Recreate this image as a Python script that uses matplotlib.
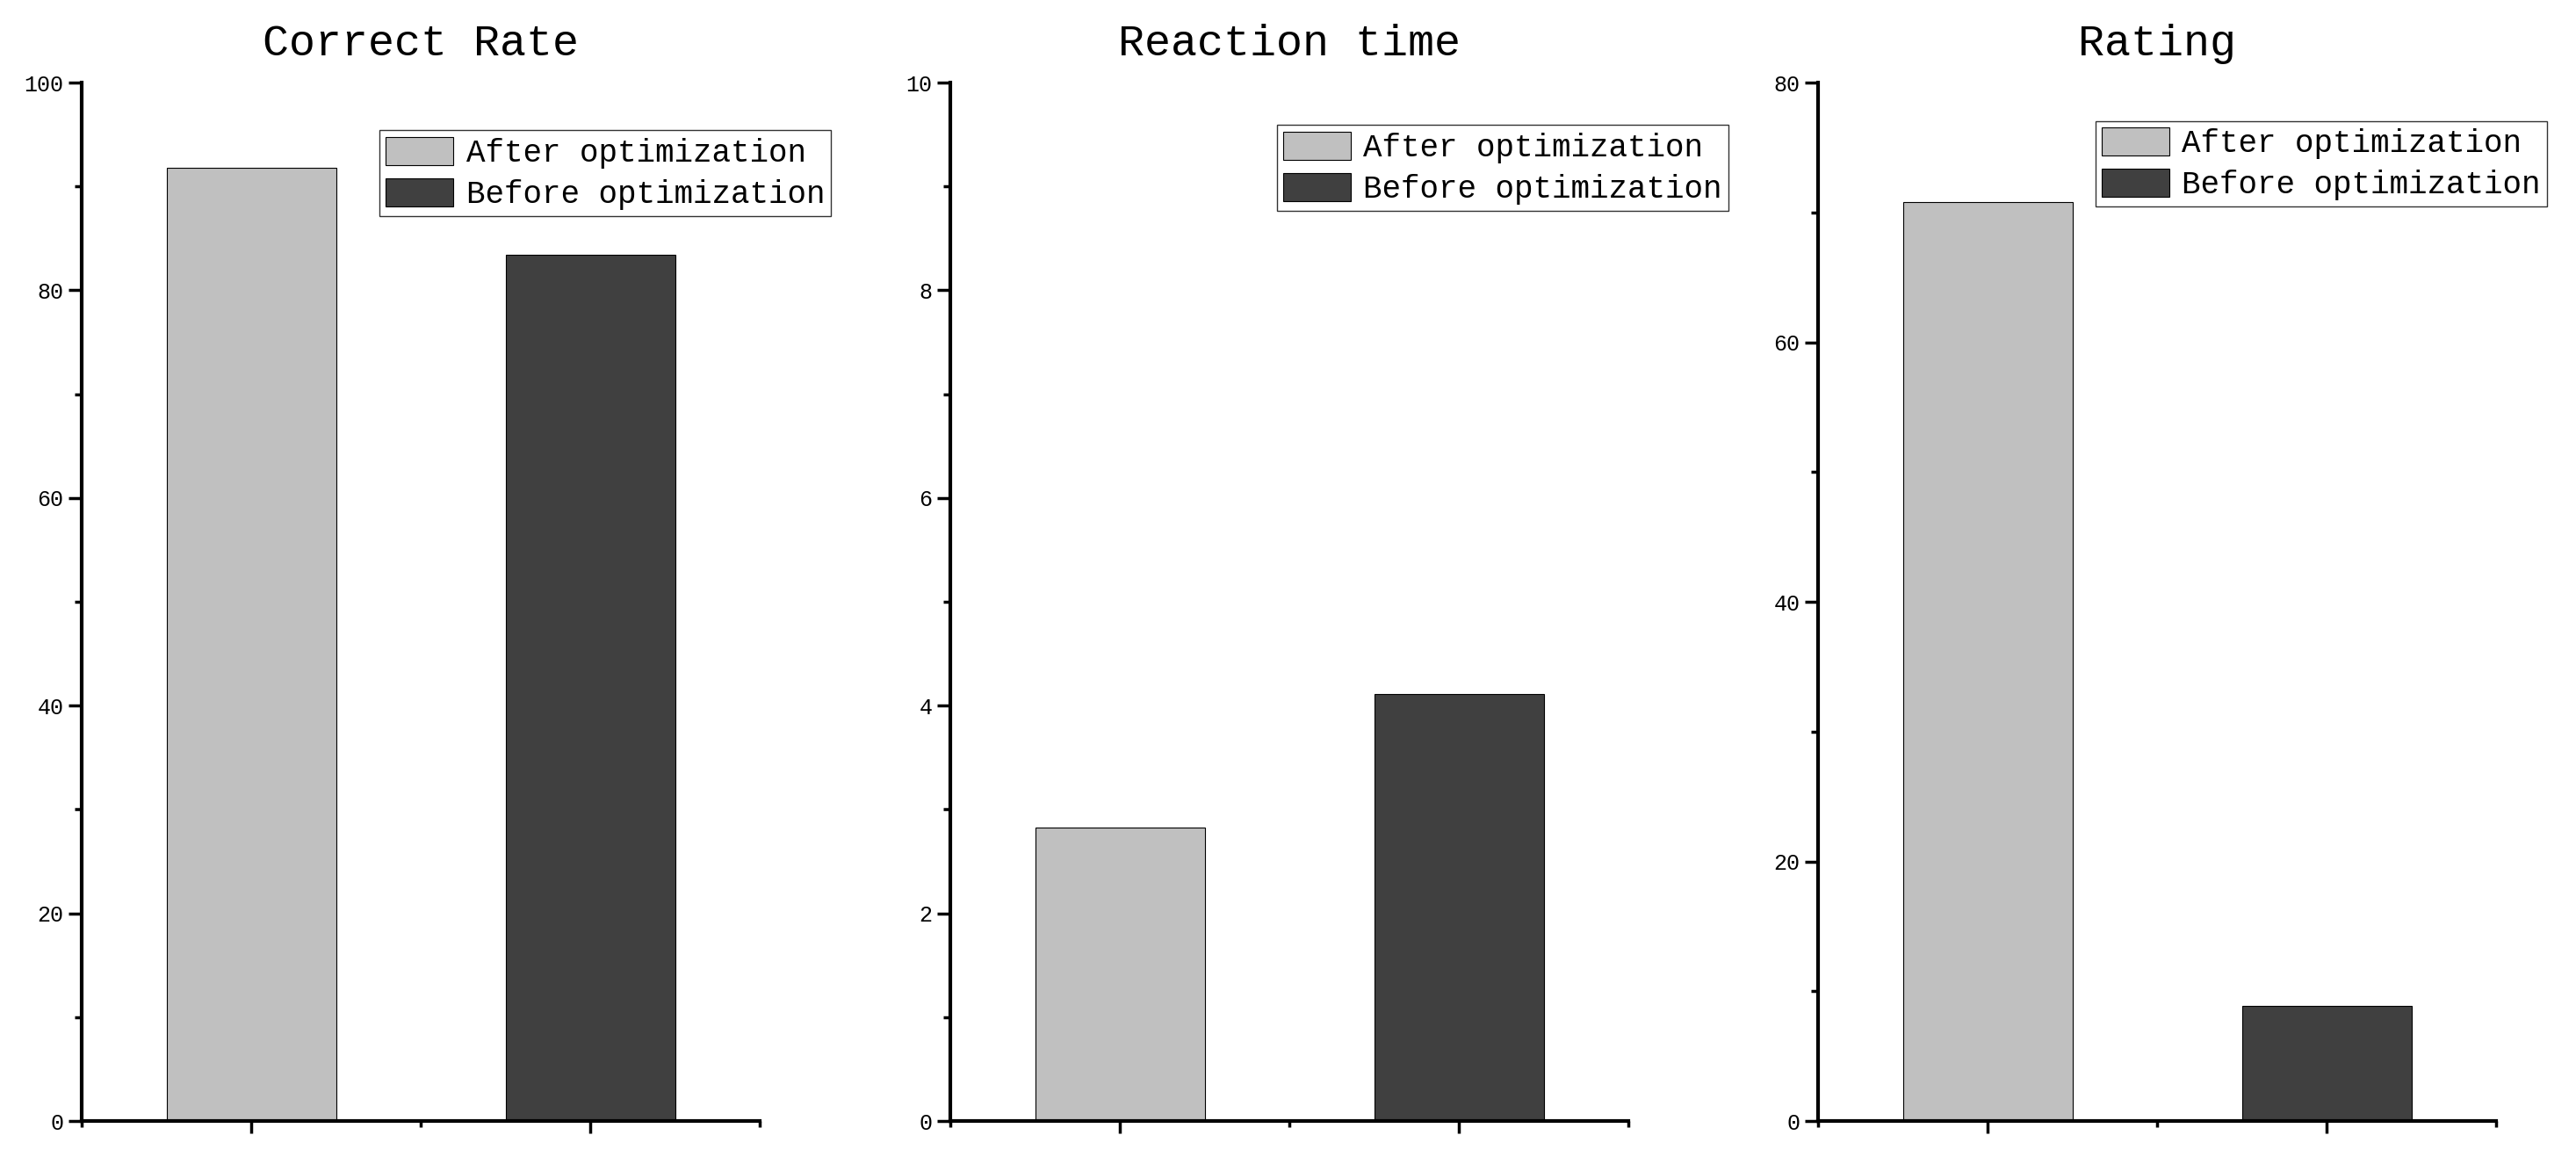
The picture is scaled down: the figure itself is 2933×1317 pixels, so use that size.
import matplotlib
matplotlib.use('Agg')
import matplotlib.pyplot as plt
from matplotlib.ticker import MultipleLocator

plt.rcParams['font.family'] = ['Liberation Mono', 'DejaVu Sans Mono']

# data
titles = ['Correct Rate', 'Reaction time', 'Rating']
series = ['After optimization', 'Before optimization']
after_vals = [91.8, 2.83, 70.8]
before_vals = [83.4, 4.11, 8.86]
y_max = [100, 10, 80]
y_step = [20, 2, 20]
colors = ['#c0c0c0', '#404040']

# legend upper-left corner in axes coords, per panel
legend_pos = [(0.439, 0.954), (0.481, 0.959), (0.409, 0.963)]

fig = plt.figure(figsize=(29.33, 13.17), dpi=100)
lefts = [0.0318, 0.3690, 0.7058]

for i in range(3):
    ax = fig.add_axes([lefts[i], 0.0311, 0.2632, 0.8975])
    vals = [after_vals[i], before_vals[i]]
    bars = ax.bar([1, 2], vals, width=0.5, color=colors,
                  edgecolor='black', linewidth=0.8)
    ax.set_xlim(0.5, 2.5)
    ax.set_ylim(0, y_max[i])
    ax.set_xticks([1, 2])
    ax.set_xticklabels([])
    ax.set_xticks([0.5, 1.5, 2.5], minor=True)
    ax.yaxis.set_major_locator(MultipleLocator(y_step[i]))
    ax.yaxis.set_minor_locator(MultipleLocator(y_step[i] / 2))
    ax.tick_params(axis='x', which='major', length=10, width=2.5, direction='out')
    ax.tick_params(axis='x', which='minor', length=5, width=2.5, direction='out')
    ax.tick_params(axis='y', which='major', length=11, width=2.5, labelsize=18, pad=4)
    ax.tick_params(axis='y', which='minor', length=5.5, width=2.5)
    for s in ['top', 'right']:
        ax.spines[s].set_visible(False)
    for s in ['left', 'bottom']:
        ax.spines[s].set_linewidth(3)
    ax.set_title(titles[i], fontsize=36, pad=22)
    leg = ax.legend(bars, series, loc='upper left', bbox_to_anchor=legend_pos[i],
                    fontsize=25.8, frameon=True, fancybox=False, edgecolor='black',
                    handlelength=2.15, handleheight=1.0, labelspacing=0.3,
                    borderpad=0.2, handletextpad=0.4, borderaxespad=0)
    leg.get_frame().set_linewidth(1.0)

plt.savefig('out.png', dpi=100)
plt.close()
